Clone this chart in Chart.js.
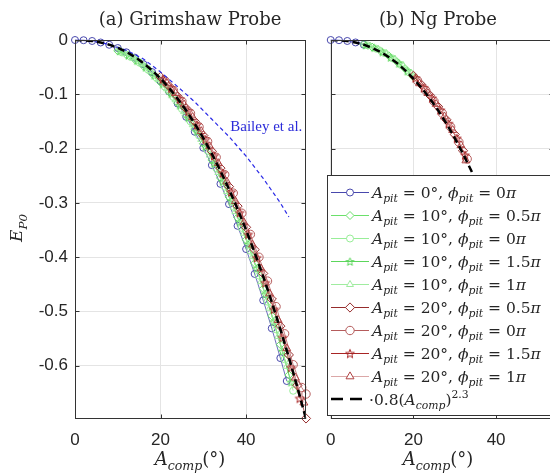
<!DOCTYPE html>
<html>
<head>
<meta charset="utf-8">
<title>E_P0 vs A_comp</title>
<script src="https://cdn.jsdelivr.net/npm/chart.js@4.4.1/dist/chart.umd.min.js"></script>
<style>
  html, body { margin: 0; padding: 0; background: #fff; }
  #wrap { position: relative; width: 550px; height: 476px; overflow: hidden; }
  canvas { position: absolute; top: 0; }
  #panelA { left: 0; }
  #panelB { left: 315px; }
</style>
</head>
<body>
<div id="wrap">
  <canvas id="panelA" width="315" height="476" style="width:315px;height:476px"></canvas>
  <canvas id="panelB" width="250" height="476" style="width:250px;height:476px"></canvas>
</div>
<script>
// axes
const xTicks = [0, 20, 40];
const yTicks = [0, -0.1, -0.2, -0.3, -0.4, -0.5, -0.6];
const xMax = 54;
const yMin = -0.698;

// legend labels (A_pit in degrees, phi_pit in units of pi)
const apitLabels = ['0', '10', '10', '10', '10', '20', '20', '20', '20'];
const phiLabels = ['0', '0.5', '0', '1.5', '1', '0.5', '0', '1.5', '1'];

// fitted curve -0.8(A_comp)^2.3
const fitX = [0, 2, 4, 6, 8, 10, 12, 14, 16, 18, 20, 22, 24, 26, 28, 30, 32, 34, 36, 38, 40, 42, 44, 46, 48, 50, 52, 54];
const fitY = [0, -0.0004, -0.0018, -0.0045, -0.0086, -0.0144, -0.0219, -0.0313, -0.0425, -0.0558, -0.0711, -0.0885, -0.1081, -0.1299,
  -0.1541, -0.1806, -0.2095, -0.2409, -0.2747, -0.3111, -0.35, -0.3916, -0.4358, -0.4827, -0.5325, -0.5848, -0.64, -0.698];

// Bailey et al. (panel a only)
const baileyX = [0, 4, 8, 12, 16, 20, 24, 28, 32, 36, 40, 44, 48, 50];
const baileyY = [0, -0.002, -0.008, -0.019, -0.035, -0.059, -0.086, -0.114, -0.146, -0.178, -0.214, -0.255, -0.3, -0.326];

// (a) Grimshaw probe
const aBlueX = [0, 2, 4, 6, 8, 10, 12, 14, 16, 18, 20, 22, 24, 26, 28, 30, 32, 34, 36, 38, 40, 42, 44, 46, 48, 49.5];
const aBlueY = [0, -0.0004, -0.0018, -0.0046, -0.0088, -0.0148, -0.0226, -0.0325, -0.0445, -0.059, -0.0758, -0.095, -0.117, -0.1415,
  -0.169, -0.1985, -0.2305, -0.265, -0.3022, -0.3422, -0.385, -0.4308, -0.4794, -0.531, -0.5858, -0.628];
const aG05X = [10, 12, 14, 16, 18, 20, 22, 24, 26, 28, 30, 32, 34, 36, 38, 40, 42, 44, 46, 48, 50];
const aG05Y = [-0.02, -0.027, -0.036, -0.048, -0.062, -0.078, -0.096, -0.116, -0.139, -0.164, -0.191, -0.221, -0.254, -0.289, -0.327,
  -0.368, -0.411, -0.458, -0.508, -0.561, -0.617];
const aG0X = [11, 13, 15, 17, 19, 21, 23, 25, 27, 29, 31, 33, 35, 37, 39, 41, 43, 45, 47, 49, 51];
const aG0Y = [-0.023, -0.031, -0.041, -0.054, -0.069, -0.086, -0.105, -0.127, -0.15, -0.176, -0.204, -0.236, -0.27, -0.307, -0.346,
  -0.388, -0.434, -0.482, -0.533, -0.588, -0.646];
const aG15X = [10.5, 12.5, 14.5, 16.5, 18.5, 20.5, 22.5, 24.5, 26.5, 28.5, 30.5, 32.5, 34.5, 36.5, 38.5, 40.5, 42.5, 44.5, 46.5, 48.5, 50.5];
const aG15Y = [-0.02, -0.028, -0.038, -0.05, -0.065, -0.081, -0.099, -0.12, -0.143, -0.168, -0.196, -0.227, -0.26, -0.296, -0.335,
  -0.376, -0.421, -0.468, -0.519, -0.573, -0.63];
const aG1X = [11.5, 13.5, 15.5, 17.5, 19.5, 21.5, 23.5, 25.5, 27.5, 29.5, 31.5, 33.5, 35.5, 37.5, 39.5, 41.5, 43.5, 45.5, 47.5, 49.5];
const aG1Y = [-0.024, -0.033, -0.044, -0.057, -0.073, -0.09, -0.11, -0.132, -0.156, -0.183, -0.212, -0.244, -0.279, -0.316, -0.356,
  -0.399, -0.445, -0.494, -0.546, -0.601];
const aR05X = [20, 22, 24, 26, 28, 30, 32, 34, 36, 38, 40, 42, 44, 46, 48, 50, 52, 54];
const aR05Y = [-0.068, -0.085, -0.104, -0.126, -0.15, -0.176, -0.205, -0.236, -0.27, -0.306, -0.345, -0.386, -0.43, -0.477, -0.527,
  -0.58, -0.636, -0.697];
const aR0X = [21, 23, 25, 27, 29, 31, 33, 35, 37, 39, 41, 43, 45, 47, 49, 51, 53, 54];
const aR0Y = [-0.075, -0.093, -0.113, -0.135, -0.16, -0.187, -0.216, -0.248, -0.282, -0.319, -0.358, -0.4, -0.444, -0.491, -0.541,
  -0.598, -0.64, -0.652];
const aR15X = [20.5, 22.5, 24.5, 26.5, 28.5, 30.5, 32.5, 34.5, 36.5, 38.5, 40.5, 42.5, 44.5, 46.5, 48.5, 50.5, 52.5];
const aR15Y = [-0.072, -0.089, -0.109, -0.131, -0.156, -0.183, -0.213, -0.245, -0.28, -0.318, -0.358, -0.401, -0.447, -0.496, -0.548,
  -0.603, -0.66];
const aR1X = [21.5, 23.5, 25.5, 27.5, 29.5, 31.5, 33.5, 35.5, 37.5, 39.5, 41.5, 43.5, 45.5, 47.5, 49.5, 51.5, 53.5];
const aR1Y = [-0.08, -0.098, -0.119, -0.142, -0.168, -0.196, -0.227, -0.261, -0.297, -0.336, -0.377, -0.421, -0.467, -0.516, -0.568,
  -0.622, -0.668];

// (b) Ng probe
const bBlueX = [0, 2, 4, 6, 8];
const bBlueY = [0, -0.0004, -0.0018, -0.0045, -0.0086];
const bG05X = [8, 10, 12, 14, 16, 18, 20];
const bG05Y = [-0.008, -0.013, -0.02, -0.029, -0.04, -0.053, -0.068];
const bG0X = [9, 11, 13, 15, 17, 19];
const bG0Y = [-0.01, -0.016, -0.024, -0.034, -0.046, -0.06];
const bG15X = [8.5, 10.5, 12.5, 14.5, 16.5, 18.5];
const bG15Y = [-0.009, -0.014, -0.022, -0.032, -0.043, -0.057];
const bG1X = [9.5, 11.5, 13.5, 15.5, 17.5, 19.5];
const bG1Y = [-0.011, -0.017, -0.025, -0.035, -0.047, -0.062];
const bR05X = [20, 22, 24, 26, 28, 30, 32];
const bR05Y = [-0.066, -0.083, -0.102, -0.123, -0.147, -0.174, -0.204];
const bR0X = [21, 23, 25, 27, 29, 31, 33];
const bR0Y = [-0.075, -0.093, -0.113, -0.135, -0.16, -0.188, -0.219];
const bR15X = [20.5, 22.5, 24.5, 26.5, 28.5, 30.5, 32.5];
const bR15Y = [-0.07, -0.088, -0.107, -0.129, -0.154, -0.181, -0.212];
const bR1X = [21.5, 23.5, 25.5, 27.5, 29.5, 31.5, 32.7];
const bR1Y = [-0.08, -0.098, -0.118, -0.141, -0.166, -0.194, -0.222];

const SERIF = '"DejaVu Serif", serif';
const SANS = '"Liberation Sans", Arial, sans-serif';
const AXIS = '#333333';

// pentagram marker (Chart.js "star" is an asterisk)
function makeStar(color, r) {
  const c = document.createElement('canvas');
  const s = Math.ceil(r * 2 + 4);
  c.width = s; c.height = s;
  const g = c.getContext('2d');
  g.translate(s / 2, s / 2 + 0.5);
  g.beginPath();
  for (let k = 0; k < 10; k++) {
    const rr = k % 2 ? r * 0.42 : r;
    const ang = -Math.PI / 2 + k * Math.PI / 5;
    g.lineTo(rr * Math.cos(ang), rr * Math.sin(ang));
  }
  g.closePath();
  g.strokeStyle = color; g.lineWidth = 1; g.stroke();
  return c;
}

const styles = [
  { color: '#4848ad', point: 'circle', r: 3.5 },
  { color: '#6be06b', point: 'rectRot', r: 4 },
  { color: '#98ee98', point: 'circle', r: 3.5 },
  { color: '#5cd65c', point: 'star', r: 4.2 },
  { color: '#a0eca0', point: 'triangle', r: 4 },
  { color: '#962c2c', point: 'rectRot', r: 4.6 },
  { color: '#b55c5c', point: 'circle', r: 4.2 },
  { color: '#a82424', point: 'star', r: 4.6 },
  { color: '#b04444', line: '#dba7a7', point: 'triangle', r: 4.6 },
];
styles.forEach(s => { s.marker = s.point === 'star' ? makeStar(s.color, s.r) : s.point; });

const pts = (xs, ys) => xs.map((x, i) => ({ x, y: ys[i] }));

function seriesSet(xs, ys, st) {
  return {
    data: pts(xs, ys), showLine: true, tension: 0, clip: false,
    borderColor: st.line || st.color, borderWidth: 0.8,
    pointStyle: st.marker, pointRadius: st.r, pointBorderWidth: 1,
    pointBorderColor: st.color, pointBackgroundColor: 'rgba(255,255,255,0)'
  };
}

function lineSet(xs, ys, color, width, dash) {
  return {
    data: pts(xs, ys), showLine: true, tension: 0, pointRadius: 0,
    borderColor: color, borderWidth: width, borderDash: dash
  };
}

function buildSets(xsList, ysList, extra) {
  const sets = xsList.map((xs, i) => seriesSet(xs, ysList[i], styles[i]));
  extra.forEach(e => sets.push(e));
  sets.push(lineSet(fitX, fitY, '#000000', 2.5, [7, 4]));
  // later datasets drawn on top, as in the original plot
  return sets.map((s, i) => Object.assign(s, { order: sets.length - i }));
}

// text made of runs: [text, kind]
function runFont(k, size) {
  if (k === 'i') return [`italic ${size}px ${SERIF}`, 0];
  if (k === 'sub') return [`italic ${(size * 0.7).toFixed(1)}px ${SERIF}`, size * 0.28];
  if (k === 'sup') return [`${(size * 0.7).toFixed(1)}px ${SERIF}`, -size * 0.42];
  return [`${size}px ${SERIF}`, 0];
}

function runsWidth(ctx, runs, size) {
  let w = 0;
  runs.forEach(([t, k]) => { ctx.font = runFont(k, size)[0]; w += ctx.measureText(t).width; });
  return w;
}

function drawRuns(ctx, runs, x, y, size, align) {
  const w = runsWidth(ctx, runs, size);
  let cx = align === 'center' ? x - w / 2 : x;
  ctx.textAlign = 'left';
  ctx.textBaseline = 'alphabetic';
  runs.forEach(([t, k]) => {
    const [f, dy] = runFont(k, size);
    ctx.font = f;
    ctx.fillText(t, cx, y + dy);
    cx += ctx.measureText(t).width;
  });
  return w;
}

const legendRuns = k => [['A', 'i'], ['pit', 'sub'], [' = ' + apitLabels[k] + '°, ', 'n'], ['ϕ', 'i'], ['pit', 'sub'],
  [' = ' + phiLabels[k], 'n'], ['π', 'i']];

function drawFrame(chart, ctx) {
  const a = chart.chartArea, xs = chart.scales.x, ys = chart.scales.y;
  const L = Math.round(a.left) + 0.5, R = Math.round(a.right) - 0.5;
  const T = Math.round(a.top) + 0.5, B = Math.round(a.bottom) - 0.5;
  ctx.save();
  ctx.strokeStyle = AXIS;
  ctx.lineWidth = 1;
  ctx.strokeRect(L, T, R - L, B - T);
  ctx.beginPath();
  xTicks.forEach(v => {
    const px = Math.round(xs.getPixelForValue(v)) + 0.5;
    ctx.moveTo(px, B); ctx.lineTo(px, B - 4);
    ctx.moveTo(px, T); ctx.lineTo(px, T + 4);
  });
  yTicks.forEach(v => {
    const py = Math.round(ys.getPixelForValue(v)) + 0.5;
    ctx.moveTo(L, py); ctx.lineTo(L + 4, py);
    ctx.moveTo(R, py); ctx.lineTo(R - 4, py);
  });
  ctx.stroke();
  ctx.restore();
}

const decorA = {
  id: 'decorA',
  afterDraw(chart) {
    const ctx = chart.ctx, xs = chart.scales.x, ys = chart.scales.y;
    drawFrame(chart, ctx);
    ctx.save();
    ctx.fillStyle = '#262626';
    drawRuns(ctx, [['(a) Grimshaw Probe', 'n']], 190, 25, 18, 'center');
    drawRuns(ctx, [['A', 'i'], ['comp', 'sub'], ['(°)', 'n']], 190, 465, 18, 'center');
    ctx.translate(17, 228);
    ctx.rotate(-Math.PI / 2);
    drawRuns(ctx, [['E', 'i'], ['P0', 'sub']], 0, 5, 17, 'center');
    ctx.restore();
    ctx.save();
    ctx.fillStyle = '#2b2bd9';
    ctx.font = `15px "Liberation Serif", serif`;
    ctx.textAlign = 'left';
    ctx.fillText('Bailey et al.', xs.getPixelForValue(36.3), ys.getPixelForValue(-0.1685));
    ctx.restore();
  }
};

const decorB = {
  id: 'decorB',
  afterDraw(chart) {
    const ctx = chart.ctx;
    const off = 315;
    drawFrame(chart, ctx);
    ctx.save();
    ctx.fillStyle = '#262626';
    drawRuns(ctx, [['(b) Ng Probe', 'n']], 438 - off, 25, 18, 'center');
    drawRuns(ctx, [['A', 'i'], ['comp', 'sub'], ['(°)', 'n']], 438 - off, 465, 18, 'center');

    // legend
    const left = 327 - off + 0.5, top = 175.5, bottom = 415.5;
    ctx.fillStyle = '#ffffff';
    ctx.fillRect(left, top, chart.width, bottom - top);
    ctx.strokeStyle = AXIS;
    ctx.lineWidth = 1;
    ctx.strokeRect(left, top, chart.width, bottom - top);
    const x0 = 331 - off, x1 = 369 - off, xm = 350 - off, xt = 372 - off;
    // widest entry spans 372..542 in the original
    const size = Math.min(17, 16 * 169 / runsWidth(ctx, legendRuns(1), 16));
    styles.forEach((st, k) => {
      const yc = 192 + 23 * k;
      ctx.strokeStyle = st.line || st.color;
      ctx.lineWidth = 1;
      ctx.beginPath(); ctx.moveTo(x0, yc + 0.5); ctx.lineTo(x1, yc + 0.5); ctx.stroke();
      ctx.fillStyle = '#ffffff';
      ctx.strokeStyle = st.color;
      Chart.helpers.drawPoint(ctx, { pointStyle: st.marker, radius: st.r, borderWidth: 1, rotation: 0 }, xm, yc + 0.5);
      ctx.fillStyle = '#262626';
      drawRuns(ctx, legendRuns(k), xt, yc + 5.5, size);
    });
    const yf = 192 + 23 * 9;
    ctx.strokeStyle = '#000000';
    ctx.lineWidth = 2.5;
    ctx.setLineDash([12, 7]);
    ctx.beginPath(); ctx.moveTo(x0, yf); ctx.lineTo(x1 - 6, yf); ctx.stroke();
    ctx.setLineDash([]);
    ctx.fillStyle = '#262626';
    drawRuns(ctx, [['·0.8(', 'n'], ['A', 'i'], ['comp', 'sub'], [')', 'n'], ['2.3', 'sup']], 369 - off, yf + 5.5, size);
    ctx.restore();
  }
};

function scalesFor(yWidth, yLabels) {
  const grid = { color: '#e4e4e4', lineWidth: 1, drawTicks: false };
  const font = { family: SANS, size: 17 };
  return {
    x: {
      type: 'linear', min: 0, max: xMax,
      afterBuildTicks: s => { s.ticks = xTicks.map(v => ({ value: v })); },
      afterFit: s => { s.height = 57; },
      grid, border: { display: false },
      ticks: { padding: 11, color: '#262626', font, maxRotation: 0, autoSkip: false, callback: v => String(v) }
    },
    y: {
      type: 'linear', min: yMin, max: 0,
      afterBuildTicks: s => { s.ticks = yTicks.map(v => ({ value: v })); },
      afterFit: s => { s.width = yWidth; },
      grid, border: { display: false },
      ticks: { display: yLabels, padding: 7, color: '#262626', font, callback: v => String(v) }
    }
  };
}

function makeChart(id, datasets, yWidth, padRight, yLabels, plugin) {
  return new Chart(document.getElementById(id), {
    type: 'scatter',
    data: { datasets },
    options: {
      responsive: false, animation: false, events: [],
      layout: { padding: { top: 40, right: padRight, left: 0, bottom: 0 } },
      plugins: { legend: { display: false }, tooltip: { enabled: false } },
      scales: scalesFor(yWidth, yLabels)
    },
    plugins: [plugin]
  });
}

makeChart('panelA',
  buildSets([aBlueX, aG05X, aG0X, aG15X, aG1X, aR05X, aR0X, aR15X, aR1X],
    [aBlueY, aG05Y, aG0Y, aG15Y, aG1Y, aR05Y, aR0Y, aR15Y, aR1Y],
    [lineSet(baileyX, baileyY, '#2a2ae6', 1.2, [4, 3])]),
  75, 9, true, decorA);

makeChart('panelB',
  buildSets([bBlueX, bG05X, bG0X, bG15X, bG1X, bR05X, bR0X, bR15X, bR1X],
    [bBlueY, bG05Y, bG0Y, bG15Y, bG1Y, bR05Y, bR0Y, bR15Y, bR1Y], []),
  8, 11, false, decorB);
</script>
</body>
</html>
